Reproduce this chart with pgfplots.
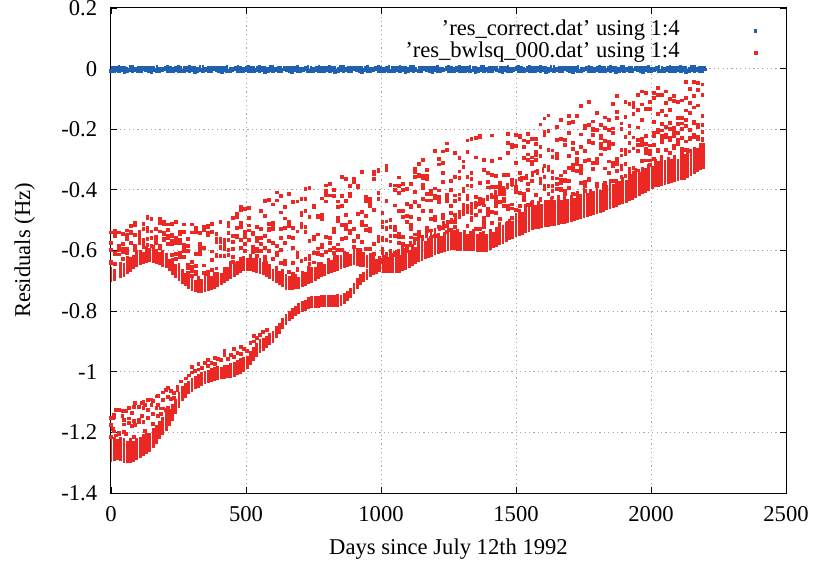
\documentclass[border=0pt]{standalone}
\usepackage{pgfplots}
\usepackage{pgfplotstable}
\pgfplotsset{compat=1.18}
\usepackage{fontspec}
\setmainfont{Liberation Serif}
\definecolor{blueA}{RGB}{32,96,176}
\definecolor{redA}{RGB}{236,40,36}
\pgfplotsset{
 redpt/.style={only marks, mark=square*, mark size=0.7pt, color=redA, mark options={draw=none}},
 redcol/.style={forget plot, draw=none, mark=none, error bars/.cd, y dir=plus, y explicit, error mark=none,
   error bar style={line width=1.45pt, draw=redA, solid}},
}
% blue series res_correct: day, low end, extent of each column of points
\pgfplotstableread{
x lo h
0 -.007 .016
10 -.009 .018
20 -.005 .013
30 -.008 .020
40 -.006 .014
50 -.010 .019
60 -.007 .012
70 -.004 .017
80 -.009 .020
90 -.006 .013
100 -.008 .018
110 -.007 .016
120 -.003 .011
130 -.006 .014
140 -.008 .017
150 -.010 .020
160 -.004 .012
170 -.007 .018
180 -.009 .016
190 -.006 .013
200 -.003 .011
210 -.008 .019
220 -.007 .017
230 -.009 .016
240 -.004 .013
250 -.007 .018
260 -.007 .016
270 -.009 .018
280 -.005 .013
290 -.008 .020
300 -.006 .014
310 -.010 .019
320 -.007 .012
330 -.004 .017
340 -.009 .020
350 -.006 .013
360 -.008 .018
370 -.007 .016
380 -.003 .011
390 -.006 .014
400 -.008 .017
410 -.010 .020
420 -.004 .012
430 -.007 .018
440 -.009 .016
450 -.006 .013
460 -.003 .011
470 -.008 .019
480 -.007 .017
490 -.009 .016
500 -.004 .013
510 -.007 .018
520 -.007 .016
530 -.009 .018
540 -.005 .013
550 -.008 .020
560 -.006 .014
570 -.010 .019
580 -.007 .012
590 -.004 .017
600 -.009 .020
610 -.006 .013
620 -.008 .018
630 -.007 .016
640 -.003 .011
650 -.006 .014
660 -.008 .017
670 -.010 .020
680 -.004 .012
690 -.007 .018
700 -.009 .016
710 -.006 .013
720 -.003 .011
730 -.008 .019
740 -.007 .017
750 -.009 .016
760 -.004 .013
770 -.007 .018
780 -.007 .016
790 -.009 .018
800 -.005 .013
810 -.008 .020
820 -.006 .014
830 -.010 .019
840 -.007 .012
850 -.004 .017
860 -.009 .020
870 -.006 .013
880 -.008 .018
890 -.007 .016
900 -.003 .011
910 -.006 .014
920 -.008 .017
930 -.010 .020
940 -.004 .012
950 -.007 .018
960 -.009 .016
970 -.006 .013
980 -.003 .011
990 -.008 .019
1000 -.007 .017
1010 -.009 .016
1020 -.004 .013
1030 -.007 .018
1040 -.007 .016
1050 -.009 .018
1060 -.005 .013
1070 -.008 .020
1080 -.006 .014
1090 -.010 .019
1100 -.007 .012
1110 -.004 .017
1120 -.009 .020
1130 -.006 .013
1140 -.008 .018
1150 -.007 .016
1160 -.003 .011
1170 -.006 .014
1180 -.008 .017
1190 -.010 .020
1200 -.004 .012
1210 -.007 .018
1220 -.009 .016
1230 -.006 .013
1240 -.003 .011
1250 -.008 .019
1260 -.007 .017
1270 -.009 .016
1280 -.004 .013
1290 -.007 .018
1300 -.007 .016
1310 -.009 .018
1320 -.005 .013
1330 -.008 .020
1340 -.006 .014
1350 -.010 .019
1360 -.007 .012
1370 -.004 .017
1380 -.009 .020
1390 -.006 .013
1400 -.008 .018
1410 -.007 .016
1420 -.003 .011
1430 -.006 .014
1440 -.008 .017
1450 -.010 .020
1460 -.004 .012
1470 -.007 .018
1480 -.009 .016
1490 -.006 .013
1500 -.003 .011
1510 -.008 .019
1520 -.007 .017
1530 -.009 .016
1540 -.004 .013
1550 -.007 .018
1560 -.007 .016
1570 -.009 .018
1580 -.005 .013
1590 -.008 .020
1600 -.006 .014
1610 -.010 .019
1620 -.007 .012
1630 -.004 .017
1640 -.009 .020
1650 -.006 .013
1660 -.008 .018
1670 -.007 .016
1680 -.003 .011
1690 -.006 .014
1700 -.008 .017
1710 -.010 .020
1720 -.004 .012
1730 -.007 .018
1740 -.009 .016
1750 -.006 .013
1760 -.003 .011
1770 -.008 .019
1780 -.007 .017
1790 -.009 .016
1800 -.004 .013
1810 -.007 .018
1820 -.007 .016
1830 -.009 .018
1840 -.005 .013
1850 -.008 .020
1860 -.006 .014
1870 -.010 .019
1880 -.007 .012
1890 -.004 .017
1900 -.009 .020
1910 -.006 .013
1920 -.008 .018
1930 -.007 .016
1940 -.003 .011
1950 -.006 .014
1960 -.008 .017
1970 -.010 .020
1980 -.004 .012
1990 -.007 .018
2000 -.009 .016
2010 -.006 .013
2020 -.003 .011
2030 -.008 .019
2040 -.007 .017
2050 -.009 .016
2060 -.004 .013
2070 -.007 .018
2080 -.007 .016
2090 -.009 .018
2100 -.005 .013
2110 -.008 .020
2120 -.006 .014
2130 -.010 .019
2140 -.007 .012
2150 -.004 .017
2160 -.009 .020
2170 -.006 .013
2180 -.008 .018
2190 -.007 .016
2200 -.003 .011
}\blue
% red, upper band, scattered points before day 1000
\pgfplotstableread{
x a b c d e f
0 -.638 -.636 -.540 -.574 -.640 -.597
15 -.606 -.540 -.553 -.610 -.536 -.644
30 -.598 -.589 -.613 -.592 -.540 -.583
45 -.593 -.600 -.545 -.579 -.627 -.606
60 -.597 -.534 -.607 -.548 -.594 -.561
75 -.543 -.576 -.518 -.537 -.519 -.573
90 -.597 -.547 -.586 -.507 -.516 -.548
105 -.549 -.554 -.539 -.575 -.562 -.551
120 -.587 -.513 -.530 -.588 -.578 -.566
135 -.561 -.526 -.582 -.488 -.494 -.537
150 -.496 -.559 -.586 -.537 -.495 -.560
165 -.566 -.556 -.571 -.575 -.529 -.558
180 -.592 -.509 -.506 -.583 -.496 -.537
195 -.511 -.504 -.545 -.567 -.541 -.563
210 -.514 -.577 -.533 -.557 -.560 -.550
225 -.615 -.577 -.569 -.548 -.513 -.553
240 -.506 -.570 -.559 -.610 -.576 -.627
255 -.607 -.547 -.575 -.566 -.537 -.621
270 -.602 -.538 -.620 -.589 -.514 -.582
285 -.657 -.647 -.601 -.672 -.561 -.584
300 -.540 -.668 -.638 -.683 -.514 -.654
315 -.525 -.539 -.651 -.671 -.611 -.679
330 -.594 -.587 -.578 -.610 -.541 -.599
345 -.649 -.523 -.532 -.593 -.675 -.590
360 -.522 -.678 -.543 -.517 -.550 -.671
375 -.603 -.631 -.539 -.663 -.513 -.664
390 -.545 -.561 -.573 -.618 -.613 -.659
405 -.592 -.563 -.619 -.587 -.505 -.573
420 -.564 -.577 -.619 -.596 -.564 -.592
435 -.507 -.520 -.598 -.542 -.566 -.614
450 -.596 -.620 -.638 -.493 -.572 -.553
465 -.479 -.557 -.525 -.489 -.491 -.553
480 -.510 -.465 -.566 -.521 -.456 -.592
495 -.556 -.462 -.600 -.537 -.549 -.577
510 -.534 -.567 -.493 -.459 -.517 -.564
525 -.594 -.541 -.547 -.606 -.596 -.588
540 -.569 -.619 -.521 -.594 -.600 -.557
555 -.601 -.469 -.471 -.530 -.558 -.578
570 -.437 -.635 -.485 -.621 -.551 -.591
585 -.568 -.511 -.432 -.601 -.532 -.529
600 -.530 -.448 -.520 -.628 -.507 -.575
615 -.607 -.408 -.586 -.583 -.435 -.615
630 -.599 -.558 -.419 -.474 -.640 -.530
645 -.525 -.494 -.574 -.455 -.633 -.644
660 -.413 -.509 -.671 -.506 -.520 -.556
675 -.676 -.641 -.592 -.525 -.440 -.559
690 -.662 -.537 -.438 -.665 -.622 -.609
705 -.482 -.522 -.635 -.429 -.476 -.511
720 -.627 -.469 -.521 -.397 -.429 -.538
735 -.618 -.629 -.490 -.394 -.569 -.643
750 -.561 -.639 -.453 -.458 -.609 -.556
765 -.547 -.489 -.484 -.593 -.607 -.612
780 -.588 -.496 -.615 -.582 -.428 -.482
795 -.403 -.604 -.438 -.417 -.385 -.555
810 -.381 -.558 -.598 -.418 -.574 -.557
825 -.540 -.608 -.592 -.399 -.420 -.529
840 -.492 -.598 -.502 -.456 -.438 -.580
855 -.515 -.358 -.452 -.421 -.561 -.598
870 -.365 -.436 -.516 -.559 -.529 -.482
885 -.388 -.413 -.534 -.542 -.421 -.505
900 -.373 -.568 -.530 -.363 -.588 -.589
915 -.390 -.385 -.598 -.552 -.479 -.557
930 -.473 -.572 -.341 -.516 -.505 -.504
945 -.422 -.517 -.436 -.486 -.533 -.595
960 -.595 -.452 -.430 -.527 -.535 -.443
975 -.363 -.611 -.579 -.340 -.349 -.465
990 -.337 -.430 -.334 -.554 -.409 -.569
}\upA
% red, upper band, scattered points after day 1000
\pgfplotstableread{
x a b c d e f g
1005 -.475 -.505 -.559 -.594 -.609 -.566 -.521
1020 -.564 -.322 -.436 -.334 -.504 -.524 -.529
1035 -.609 -.383 -.600 -.498 -.552 -.522 -.570
1050 -.400 -.385 -.527 -.521 -.451 -.531 -.553
1065 -.387 -.544 -.359 -.411 -.469 -.556 -.576
1080 -.554 -.470 -.379 -.400 -.488 -.582 -.578
1095 -.447 -.505 -.601 -.586 -.396 -.487 -.590
1110 -.557 -.380 -.458 -.515 -.488 -.530 -.451
1125 -.407 -.341 -.356 -.332 -.547 -.561 -.439
1140 -.539 -.453 -.355 -.349 -.314 -.496 -.553
1155 -.393 -.301 -.354 -.384 -.360 -.469 -.429
1170 -.334 -.352 -.525 -.364 -.435 -.537 -.413
1185 -.534 -.558 -.495 -.414 -.403 -.435 -.470
1200 -.427 -.553 -.418 -.395 -.272 -.490 -.499
1215 -.298 -.441 -.521 -.402 -.316 -.436 -.422
1230 -.481 -.311 -.344 -.273 -.374 -.525 -.493
1245 -.268 -.437 -.416 -.538 -.247 -.519 -.423
1260 -.371 -.505 -.475 -.452 -.532 -.401 -.454
1275 -.482 -.358 -.279 -.418 -.436 -.505 -.523
1290 -.415 -.294 -.361 -.339 -.431 -.487 -.471
1305 -.453 -.306 -.398 -.324 -.450 -.405 -.460
1320 -.237 -.357 -.385 -.274 -.520 -.420 -.431
1335 -.476 -.501 -.388 -.231 -.344 -.492 -.363
1350 -.228 -.424 -.450 -.293 -.530 -.482 -.447
1365 -.220 -.377 -.528 -.227 -.443 -.469 -.430
1380 -.301 -.451 -.492 -.515 -.335 -.502 -.521
1395 -.483 -.345 -.375 -.463 -.392 -.471 -.481
1410 -.220 -.351 -.422 -.304 -.509 -.472 -.391
1425 -.429 -.442 -.389 -.355 -.452 -.476 -.423
1440 -.495 -.439 -.412 -.376 -.296 -.391 -.404
1455 -.351 -.401 -.430 -.453 -.414 -.433 -.437
1470 -.451 -.244 -.277 -.507 -.215 -.464 -.351
1485 -.493 -.461 -.250 -.380 -.259 -.366 -.448
1500 -.407 -.219 -.310 -.255 -.390 -.466 -.404
1515 -.411 -.220 -.226 -.344 -.453 -.364 -.451
1530 -.414 -.294 -.237 -.258 -.423 -.361 -.434
1545 -.241 -.450 -.283 -.215 -.301 -.401 -.379
1560 -.308 -.441 -.370 -.231 -.293 -.315 -.449
1575 -.248 -.233 -.417 -.275 -.284 -.339 -.300
1590 -.363 -.259 -.184 -.378 -.289 -.432 -.429
1605 -.209 -.218 -.164 -.321 -.388 -.357 -.396
1620 -.269 -.206 -.387 -.333 -.154 -.412 -.440
1635 -.425 -.342 -.388 -.403 -.361 -.292 -.270
1650 -.193 -.236 -.397 -.294 -.379 -.362 -.281
1665 -.352 -.169 -.233 -.400 -.376 -.367 -.396
1680 -.251 -.404 -.367 -.236 -.370 -.341 -.413
1695 -.370 -.157 -.211 -.178 -.288 -.393 -.327
1710 -.175 -.334 -.245 -.413 -.266 -.327 -.317
1725 -.315 -.312 -.415 -.157 -.278 -.298 -.338
1740 -.378 -.259 -.217 -.344 -.123 -.320 -.333
1755 -.187 -.196 -.271 -.386 -.304 -.404 -.373
1770 -.111 -.243 -.364 -.186 -.301 -.367 -.239
1785 -.198 -.204 -.219 -.174 -.332 -.311 -.244
1800 -.379 -.203 -.311 -.296 -.147 -.388 -.303
1815 -.256 -.221 -.262 -.185 -.283 -.249 -.230
1830 -.329 -.161 -.238 -.376 -.196 -.264 -.386
1845 -.262 -.169 -.306 -.251 -.201 -.344 -.243
1860 -.116 -.197 -.321 -.370 -.249 -.310 -.213
1875 -.090 -.314 -.142 -.162 -.337 -.305 -.298
1890 -.200 -.181 -.286 -.357 -.269 -.332 -.320
1905 -.160 -.109 -.355 -.267 -.281 -.315 -.226
1920 -.212 -.190 -.332 -.117 -.273 -.245 -.342
1935 -.150 -.127 -.263 -.345 -.114 -.328 -.227
1950 -.271 -.088 -.252 -.194 -.137 -.336 -.236
1965 -.252 -.169 -.118 -.075 -.305 -.232 -.242
1980 -.133 -.248 -.080 -.264 -.303 -.222 -.277
1995 -.272 -.318 -.283 -.134 -.109 -.303 -.253
2010 -.212 -.096 -.081 -.297 -.176 -.252 -.223
2025 -.273 -.210 -.088 -.150 -.063 -.202 -.268
2040 -.222 -.088 -.204 -.140 -.182 -.243 -.236
2055 -.075 -.193 -.114 -.267 -.154 -.225 -.219
2070 -.136 -.101 -.279 -.235 -.180 -.198 -.228
2085 -.222 -.256 -.089 -.106 -.195 -.210 -.262
2100 -.248 -.162 -.111 -.236 -.182 -.211 -.238
2115 -.181 -.229 -.198 -.264 -.105 -.276 -.162
2130 -.189 -.267 -.097 -.138 -.043 -.240 -.170
2145 -.228 -.112 -.145 -.067 -.271 -.202 -.232
2160 -.091 -.226 -.179 -.128 -.044 -.217 -.177
2175 -.121 -.185 -.231 -.069 -.048 -.192 -.224
2190 -.186 -.052 -.086 -.208 -.155 -.231 -.237
}\upB
% red, dense columns: day, low end, extent
\pgfplotstableread{
x lo h
0 -1.298 .08
12 -1.296 .08
24 -1.292 .07
36 -1.295 .08
48 -1.300 .08
60 -1.302 .075
72 -1.300 .08
84 -1.298 .07
96 -1.292 .075
108 -1.285 .07
120 -1.279 .075
132 -1.272 .07
144 -1.266 .065
156 -1.252 .065
168 -1.237 .06
180 -1.222 .06
192 -1.208 .06
204 -1.194 .06
216 -1.178 .055
228 -1.162 .055
240 -1.140 .05
252 -1.118 .05
264 -1.097 .05
276 -1.086 .05
288 -1.075 .045
300 -1.066 .045
312 -1.058 .045
324 -1.052 .045
336 -1.047 .045
348 -1.042 .045
360 -1.038 .045
372 -1.034 .045
384 -1.030 .045
396 -1.026 .045
408 -1.025 .04
420 -1.023 .045
432 -1.022 .045
444 -1.021 .05
456 -1.018 .05
468 -1.012 .05
480 -1.006 .05
492 -1.000 .05
504 -.992 .045
516 -.978 .045
528 -.964 .045
540 -.951 .045
552 -.938 .045
564 -.930 .04
576 -.921 .04
588 -.913 .04
600 -.905 .04
612 -.890 .04
624 -.874 .035
636 -.858 .035
648 -.845 .035
660 -.834 .035
672 -.825 .035
684 -.817 .035
696 -.808 .035
708 -.803 .035
720 -.798 .035
732 -.794 .04
744 -.791 .04
756 -.790 .04
768 -.789 .04
780 -.788 .04
792 -.787 .04
804 -.787 .04
816 -.786 .04
828 -.786 .04
840 -.785 .04
852 -.782 .035
864 -.776 .035
876 -.768 .035
888 -.758 .035
900 -.742 .035
912 -.727 .035
924 -.713 .035
936 -.705 .035
948 -.697 .035
960 -.689 .035
972 -.682 .035
984 -.677 .035
}\lowcol
\pgfplotstableread{
x lo h
0 -.705 .05
12 -.700 .04
36 -.692 .055
48 -.686 .045
60 -.678 .06
72 -.670 .05
84 -.661 .045
96 -.653 .055
108 -.647 .05
120 -.644 .04
132 -.641 .055
144 -.638 .045
156 -.641 .06
168 -.645 .05
180 -.649 .045
192 -.653 .055
204 -.659 .05
216 -.669 .04
228 -.680 .055
240 -.691 .045
252 -.701 .06
264 -.710 .05
276 -.718 .045
288 -.727 .055
300 -.735 .05
312 -.737 .04
324 -.739 .055
336 -.740 .045
348 -.736 .06
360 -.733 .05
372 -.730 .045
384 -.727 .055
396 -.722 .05
408 -.715 .04
420 -.708 .055
432 -.701 .045
444 -.694 .06
456 -.687 .05
468 -.681 .045
480 -.675 .055
492 -.669 .05
504 -.666 .04
516 -.668 .055
528 -.671 .045
540 -.673 .06
552 -.676 .05
564 -.682 .045
576 -.688 .055
588 -.694 .05
600 -.700 .04
612 -.707 .055
624 -.714 .045
636 -.721 .06
648 -.729 .05
660 -.730 .045
672 -.729 .055
684 -.727 .05
696 -.726 .04
708 -.722 .055
720 -.717 .045
732 -.711 .06
744 -.706 .05
756 -.699 .045
768 -.694 .055
780 -.689 .05
792 -.684 .04
804 -.679 .055
816 -.675 .045
828 -.670 .06
840 -.666 .05
852 -.660 .045
864 -.657 .055
876 -.654 .05
888 -.651 .04
900 -.648 .055
912 -.650 .045
924 -.653 .06
936 -.655 .05
948 -.659 .045
960 -.662 .055
972 -.666 .05
984 -.669 .04
996 -.672 .055
1008 -.675 .06
1020 -.675 .07
1032 -.675 .055
1044 -.674 .065
1056 -.674 .075
1068 -.674 .06
1080 -.669 .065
1092 -.663 .07
1104 -.657 .06
1116 -.650 .07
1128 -.644 .055
1140 -.638 .065
1152 -.633 .075
1164 -.629 .06
1176 -.624 .065
1188 -.620 .07
1200 -.616 .06
1212 -.612 .07
1224 -.608 .055
1236 -.604 .065
1248 -.600 .075
1260 -.598 .06
1272 -.599 .065
1284 -.600 .07
1296 -.600 .06
1308 -.601 .07
1320 -.602 .055
1332 -.602 .065
1344 -.603 .075
1356 -.604 .06
1368 -.604 .065
1380 -.605 .07
1392 -.605 .06
1404 -.599 .07
1416 -.593 .055
1428 -.588 .065
1440 -.582 .075
1452 -.577 .06
1464 -.572 .065
1476 -.567 .07
1488 -.562 .06
1500 -.557 .08
1512 -.552 .09
1524 -.548 .075
1536 -.543 .095
1548 -.538 .085
1560 -.533 .1
1572 -.530 .08
1584 -.528 .09
1596 -.526 .08
1608 -.524 .09
1620 -.522 .075
1632 -.520 .095
1644 -.518 .085
1656 -.516 .1
1668 -.514 .08
1680 -.511 .09
1692 -.509 .08
1704 -.506 .09
1716 -.503 .075
1728 -.500 .095
1740 -.497 .085
1752 -.494 .1
1764 -.490 .08
1776 -.487 .09
1788 -.484 .08
1800 -.480 .09
1812 -.477 .075
1824 -.473 .095
1836 -.468 .085
1848 -.464 .1
1860 -.459 .08
1872 -.455 .09
1884 -.451 .08
1896 -.446 .09
1908 -.442 .075
1920 -.437 .095
1932 -.433 .085
1944 -.427 .1
1956 -.421 .08
1968 -.415 .09
1980 -.409 .08
1992 -.403 .09
2004 -.396 .075
2016 -.392 .095
2028 -.389 .085
2040 -.386 .1
2052 -.383 .08
2064 -.380 .09
2076 -.378 .08
2088 -.375 .09
2100 -.372 .075
2112 -.369 .095
2124 -.366 .085
2136 -.361 .1
2148 -.355 .08
2160 -.348 .09
2172 -.342 .08
2184 -.336 .09
2196 -.330 .085
}\upcol
\pgfplotstableread{
x lo h
1005 -.645 .02
1020 -.638 .02
1035 -.630 .02
1050 -.622 .02
1065 -.614 .02
1080 -.606 .02
1095 -.598 .02
1110 -.590 .02
1125 -.583 .02
1140 -.575 .02
1155 -.568 .02
1170 -.560 .02
1185 -.552 .02
1200 -.545 .02
1215 -.537 .02
1230 -.528 .025
1245 -.520 .02
1260 -.512 .02
1275 -.503 .02
1290 -.495 .02
1305 -.487 .025
1320 -.478 .03
1335 -.470 .03
1350 -.462 .025
1365 -.454 .02
1380 -.446 .02
1395 -.438 .02
1410 -.430 .02
1425 -.422 .02
1440 -.414 .02
1455 -.406 .02
1470 -.398 .02
1485 -.391 .02
1500 -.384 .02
1520 -.374 .02
1540 -.366 .02
1560 -.358 .02
1580 -.350 .02
1600 -.343 .02
1620 -.337 .02
}\streak
\begin{document}
\fontsize{11.3}{13.5}\selectfont
\begin{tikzpicture}
\begin{axis}[name=ax,
 scale only axis, width=337.5pt, height=242.5pt,
 xmin=0, xmax=2500, ymin=-1.4, ymax=0.2,
 xtick={0,500,1000,1500,2000,2500}, xticklabels={0,500,1000,1500,2000,2500},
 ytick={-1.4,-1.2,-1,-0.8,-0.6,-0.4,-0.2,0,0.2},
 yticklabels={-1.4,-1.2,-1,-0.8,-0.6,-0.4,-0.2,0,0.2},
 tick align=inside, major tick length=3pt, tick style={black, line width=0.4pt},
 xtick pos=both, ytick pos=both,
 grid=major, major grid style={gray!70, line width=0.5pt, dash pattern=on 0.6pt off 1.6pt},
 axis line style={black, line width=0.5pt},
 xticklabel style={yshift=-3pt}, yticklabel style={xshift=-3pt},
 xlabel={Days since July 12th 1992}, ylabel={Residuals (Hz)},
 xlabel style={at={(axis description cs:0.5,-0.1155)}, anchor=center},
 ylabel style={at={(axis description cs:-0.128,0.5)}, anchor=center},
 legend style={draw=none, fill=none, inner sep=0pt, at={(axis description cs:0.9733,0.9765)}, anchor=north east,
   nodes={inner sep=0pt, text height=8pt, text depth=3pt}, row sep=0pt},
 legend cell align=right, legend plot pos=right,
 legend image code/.code={\path[draw=none] (0pt,0pt) -- (44pt,0pt); \path[#1, draw=none, mark repeat=2, mark phase=2] plot coordinates {(0pt,0pt)(38pt,0pt)(44pt,0pt)};},
]
\addplot[only marks, mark=square*, mark size=0.65pt, color=blueA, mark options={draw=none},
 error bars/.cd, y dir=plus, y explicit, error mark=none, error bar style={line width=1.3pt, draw=blueA, solid}]
 table[x=x, y=lo, y error plus=h] {\blue};
\addlegendentry{'res\_correct.dat' using 1:4}
\addplot[redpt] table[x=x, y=a] {\upA};
\addlegendentry{'res\_bwlsq\_000.dat' using 1:4}
\addplot[redpt, forget plot] table[x=x, y=b] {\upA};
\addplot[redpt, forget plot] table[x=x, y=c] {\upA};
\addplot[redpt, forget plot] table[x=x, y=d] {\upA};
\addplot[redpt, forget plot] table[x=x, y=e] {\upA};
\addplot[redpt, forget plot] table[x=x, y=f] {\upA};
\addplot[redpt, forget plot] table[x=x, y=a] {\upB};
\addplot[redpt, forget plot] table[x=x, y=b] {\upB};
\addplot[redpt, forget plot] table[x=x, y=c] {\upB};
\addplot[redpt, forget plot] table[x=x, y=d] {\upB};
\addplot[redpt, forget plot] table[x=x, y=e] {\upB};
\addplot[redpt, forget plot] table[x=x, y=f] {\upB};
\addplot[redpt, forget plot] table[x=x, y=g] {\upB};
% red, lower band, scattered points
\addplot[redpt, forget plot] coordinates {
(0,-1.175)(0,-1.214)(0,-1.152)(6,-1.189)(6,-1.152)(12,-1.150)(12,-1.142)(12,-1.197)(18,-1.127)(18,-1.21)
(30,-1.204)(30,-1.202)(30,-1.126)(42,-1.130)(42,-1.146)(48,-1.199)(48,-1.174)(48,-1.160)(54,-1.205)(54,-1.129)
(66,-1.119)(66,-1.154)(66,-1.168)(78,-1.178)(78,-1.135)(84,-1.214)(84,-1.115)(84,-1.161)(90,-1.175)(90,-1.102)
(102,-1.117)(102,-1.166)(102,-1.157)(114,-1.146)(114,-1.102)(120,-1.165)(120,-1.099)(120,-1.120)(126,-1.195)(126,-1.110)
(138,-1.153)(138,-1.094)(138,-1.126)(150,-1.091)(150,-1.109)(156,-1.138)(156,-1.095)(156,-1.172)(168,-1.119)(168,-1.081)
(174,-1.109)(174,-1.080)(174,-1.146)(186,-1.140)(186,-1.121)(192,-1.068)(192,-1.092)(192,-1.121)(204,-1.126)(204,-1.061)
(210,-1.054)(210,-1.118)(210,-1.084)(222,-1.090)(222,-1.064)(234,-1.069)(234,-1.085)(246,-1.048)(246,-1.060)(258,-1.032)
(276,-1.022)(288,-1.012)(300,-1.002)(300,-.985)(312,-.996)(324,-.992)(324,-.975)(336,-.988)(348,-.972)
(360,-.981)(360,-.962)(372,-.970)(384,-.975)(384,-.955)(396,-.958)(408,-.962)(420,-.945)(420,-.932)(432,-.958)
(444,-.944)(456,-.95)(456,-.925)(468,-.937)(480,-.942)(480,-.918)(492,-.925)(504,-.93)(516,-.905)(528,-.90)
(528,-.882)(540,-.888)(552,-.878)(564,-.868)(576,-.862)
};
\addplot[redcol] table[x=x, y=lo, y error plus=h] {\lowcol};
\addplot[redcol] table[x=x, y=lo, y error plus=h] {\upcol};
\addplot[redcol] table[x=x, y=lo, y error plus=h] {\streak};
\end{axis}
\pgfresetboundingbox
\path[use as bounding box] ([xshift=-55.5pt,yshift=-37.5pt]ax.south west) rectangle ([xshift=16pt,yshift=4pt]ax.north east);
\end{tikzpicture}
\end{document}
